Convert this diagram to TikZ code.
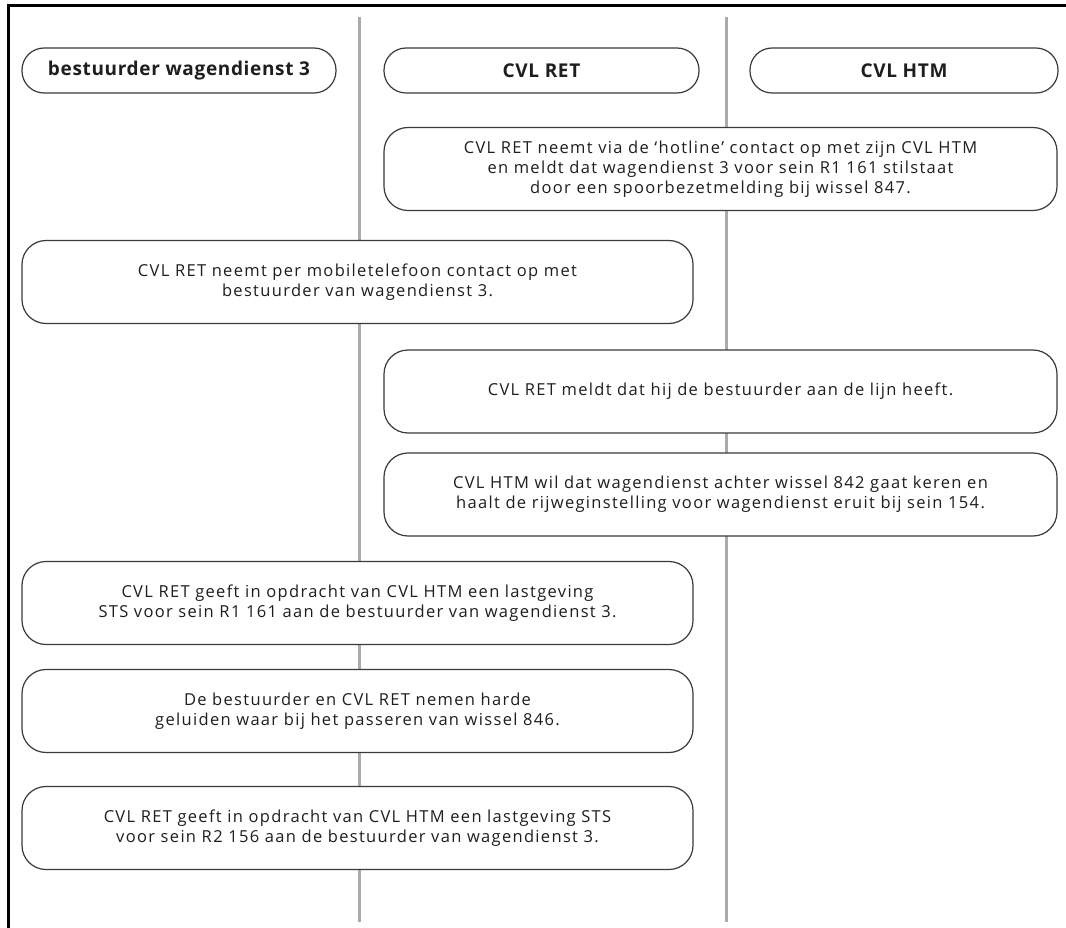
\documentclass[tikz,border=0pt]{standalone}
\usepackage{fontspec}
\setmainfont{Open Sans}
\newfontfamily\bodyfont[LetterSpace=8]{Open Sans}
\newfontfamily\headfont[LetterSpace=3.5]{Open Sans}
\definecolor{lanegray}{HTML}{ABABAB}
\definecolor{boxline}{HTML}{3A3A3A}
\definecolor{ink}{HTML}{1E1E1E}
\tikzset{
  lane/.style={draw=lanegray,line width=3pt},
  headbox/.style={draw=boxline,fill=white,line width=1.2pt,rounded corners=22pt,
    minimum height=45pt,inner sep=0pt,text=ink,font=\headfont\fontsize{19}{22}\selectfont\bfseries},
  stepbox/.style={draw=boxline,fill=white,line width=1.2pt,rounded corners=24pt,
    minimum height=83pt,inner sep=0pt,align=center,text=ink,font=\bodyfont\fontsize{16.5}{20}\selectfont},
  leftbox/.style={stepbox,minimum width=671pt},
  rightbox/.style={stepbox,minimum width=673pt}
}
\begin{document}
\begin{tikzpicture}[x=1pt,y=-1pt]
\useasboundingbox (0,0) rectangle (1066,928);

% frame
\draw [line width=3pt](8.5,935) -- (8.5,5.5) -- (1075,5.5);

% lanes
\draw [lane](359,17) -- (359,922);
\draw [lane](726,17) -- (726,922);

% headers
\node [headbox,minimum width=314pt] (hdriver) at (179,70.5) {bestuurder wagendienst 3};
\node [headbox,minimum width=315pt] (hret) at (541.5,70.5) {CVL RET};
\node [headbox,minimum width=308pt] (hhtm) at (904,70.5) {CVL HTM};

% steps
\node [rightbox] (s1) at (720.5,169) {CVL RET neemt via de ‘hotline’ contact op met zijn CVL HTM\\en meldt dat wagendienst 3 voor sein R1 161 stilstaat\\door een spoorbezetmelding bij wissel 847.};
\node [leftbox] (s2) at (357.5,282) {CVL RET neemt per mobiletelefoon contact op met\\bestuurder van wagendienst 3.};
\node [rightbox] (s3) at (720.5,391.5) {CVL RET meldt dat hij de bestuurder aan de lijn heeft.};
\node [rightbox] (s4) at (720.5,494.5) {CVL HTM wil dat wagendienst achter wissel 842 gaat keren en\\haalt de rijweginstelling voor wagendienst eruit bij sein 154.};
\node [leftbox] (s5) at (357.5,603) {CVL RET geeft in opdracht van CVL HTM een lastgeving\\STS voor sein R1 161 aan de bestuurder van wagendienst 3.};
\node [leftbox] (s6) at (357.5,711) {De bestuurder en CVL RET nemen harde\\geluiden waar bij het passeren van wissel 846.};
\node [leftbox] (s7) at (357.5,828) {CVL RET geeft in opdracht van CVL HTM een lastgeving STS\\voor sein R2 156 aan de bestuurder van wagendienst 3.};
\end{tikzpicture}
\end{document}
